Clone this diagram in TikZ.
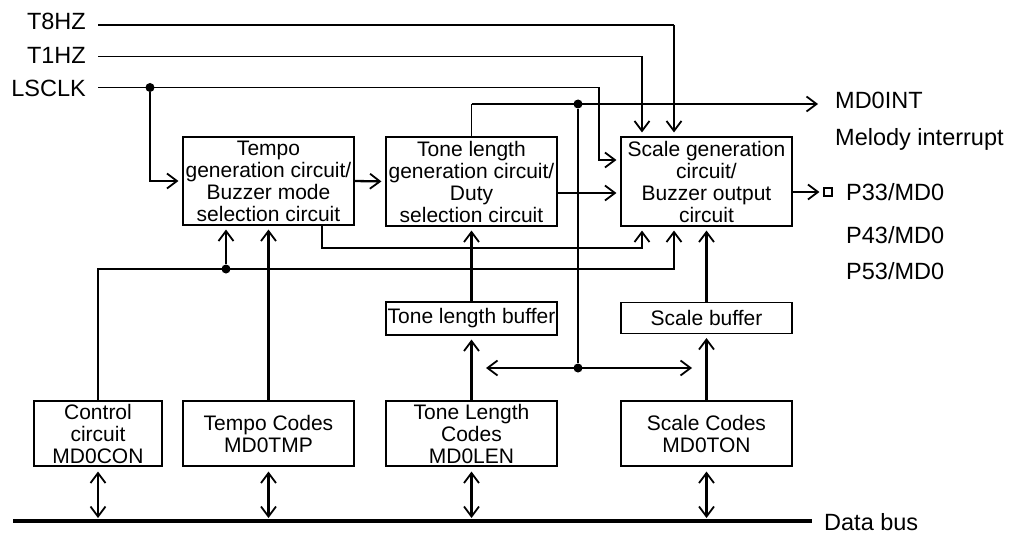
\documentclass[tikz,border=0pt]{standalone}
\usepackage{fontspec}
\setmainfont{Liberation Sans}
\usetikzlibrary{arrows.meta}

\begin{document}
\begin{tikzpicture}[
	x=1pt, y=-1pt,
	>={Straight Barb[length=10pt,width=15pt,line width=1.8pt]},
	circuitbox/.style={ draw, line width=1.1pt, inner sep=0pt, align=center, minimum width=171pt, font=\fontsize{21}{22}\selectfont },
	signallabel/.style={ inner sep=0pt, font=\fontsize{23.5}{26}\selectfont },
	thinwire/.style={ line width=1.1pt },
	thickwire/.style={ line width=2.3pt },
	arrowwire/.style={ ->, shorten >=4pt },
	bustap/.style={ <->, line width=2.3pt, shorten <=5pt, shorten >=3pt },
	junctiondot/.style={ circle, fill, inner sep=0pt, minimum size=9pt },
	padsquare/.style={ draw, line width=1.1pt, inner sep=0pt, minimum size=8pt }
]
	\useasboundingbox (0,0) rectangle (1013,535);

	% circuit blocks
	\node[circuitbox, minimum height=88pt] (tempo) at (268.5,181) {Tempo\\generation circuit/\\Buzzer mode\\selection circuit};
	\node[circuitbox, minimum height=89pt] (tonegen) at (471.5,181.5) {Tone length\\generation circuit/\\Duty\\selection circuit};
	\node[circuitbox, minimum height=89pt] (scalegen) at (706.5,181.5) {Scale generation\\circuit/\\Buzzer output\\circuit};
	\node[circuitbox, minimum height=33pt] (tonebuf) at (471.5,318.5) {Tone length buffer};
	\node[circuitbox, minimum height=31pt] (scalebuf) at (706.5,318) {Scale buffer};
	\node[circuitbox, minimum width=128pt, minimum height=65pt] (ctrl) at (98,433.5) {Control\\circuit\\MD0CON};
	\node[circuitbox, minimum height=65pt] (tempocodes) at (268.5,433.5) {Tempo Codes\\MD0TMP};
	\node[circuitbox, minimum height=65pt] (tonecodes) at (471.5,433.5) {Tone Length\\Codes\\MD0LEN};
	\node[circuitbox, minimum height=65pt] (scalecodes) at (706.5,433.5) {Scale Codes\\MD0TON};

	% signal names
	\node[signallabel, anchor=base east] (t8) at (86,30) {T8HZ};
	\node[signallabel, anchor=base east] (t1) at (86,64) {T1HZ};
	\node[signallabel, anchor=base east] (lsclk) at (86,97) {LSCLK};
	\node[signallabel, anchor=base west] (md0int) at (835,108) {MD0INT};
	\node[signallabel, anchor=base west] (melody) at (835,146) {Melody interrupt};
	\node[signallabel, anchor=base west] (p33) at (846,200) {P33/MD0};
	\node[signallabel, anchor=base west] (p43) at (846,243) {P43/MD0};
	\node[signallabel, anchor=base west] (p53) at (846,279) {P53/MD0};
	\node[signallabel, anchor=base west] (databus) at (824,530) {Data bus};

	% clock inputs
	\coordinate (t8turn) at (674,25);
	\coordinate (t1turn) at (642,56.5);
	\coordinate (lsturn) at (599,87.5);
	\coordinate (lsin) at (599,160);
	\draw[thinwire, shorten <=12pt] (t8.east |- t8turn) -- (t8turn);
	\draw[thickwire, arrowwire] (t8turn) -- (t8turn |- scalegen.north);
	\draw[thinwire, shorten <=12pt] (t1.east |- t1turn) -- (t1turn);
	\draw[thickwire, arrowwire] (t1turn) -- (t1turn |- scalegen.north);
	\draw[thinwire, arrowwire, shorten <=12pt] (lsclk.east |- lsturn) -- (lsturn) -- (lsin) -- (lsin -| scalegen.west);
	\node[junctiondot] (lsdot) at (150,87.5) {};
	\draw[thickwire, arrowwire] (lsdot) |- (tempo.west);

	% block chain
	\coordinate (dutyout) at ([yshift=-11.5pt]tonegen.east);
	\draw[thickwire, arrowwire] (tempo.east) -- (tonegen.west);
	\draw[thickwire, arrowwire] (dutyout) -- (dutyout -| scalegen.west);

	% melody interrupt and buffer transfer
	\coordinate (intturn) at (471.5,104);
	\node[junctiondot] (intdot) at (578,104) {};
	\node[junctiondot] (bufdot) at (578,368) {};
	\coordinate (toneend) at (486,368);
	\coordinate (scaleend) at (692,368);
	\draw[thinwire] (tonegen.north) -- (intturn);
	\draw[thickwire, arrowwire, shorten >=17pt] (intturn) -- (intturn -| md0int.west);
	\draw[thickwire] (intdot) -- (bufdot);
	\draw[thickwire, <->] (toneend) -- (scaleend);

	% codes to buffers to blocks
	\draw[thickwire, arrowwire] (tonecodes.north) -- (tonebuf.south);
	\draw[thickwire, arrowwire] (tonebuf.north) -- (tonegen.south);
	\draw[thickwire, arrowwire] (scalecodes.north) -- (scalebuf.south);
	\draw[thickwire, arrowwire] (scalebuf.north) -- (scalegen.south);
	\draw[thickwire, arrowwire] (tempocodes.north) -- (tempo.south);

	% control lines
	\coordinate (ctrlturn) at (98,269);
	\coordinate (ctrlin) at (674,269);
	\draw[thinwire, arrowwire] (ctrl.north) -- (ctrlturn) -- (ctrlin) -- (ctrlin |- scalegen.south);
	\node[junctiondot] (ctrldot) at (226,269) {};
	\draw[thickwire, arrowwire] (ctrldot) -- (ctrldot |- tempo.south);
	\coordinate (modeout) at ([xshift=53.5pt]tempo.south);
	\coordinate (modeturn) at (322,248);
	\coordinate (modein) at (642,248);
	\draw[thinwire, arrowwire] (modeout) -- (modeturn) -- (modein) -- (modein |- scalegen.south);

	% buzzer output
	\node[padsquare] (pad) at (828,192) {};
	\draw[thickwire, arrowwire] (scalegen.east |- pad) -- (pad);

	% data bus
	\coordinate (busstart) at (13,521);
	\coordinate (busend) at (812,521);
	\draw[line width=4.5pt] (busstart) -- (busend);
	\foreach \blk in {ctrl,tempocodes,tonecodes,scalecodes} { \draw[bustap] (\blk.south) -- (\blk.south |- busstart); }

\end{tikzpicture}
\end{document}
